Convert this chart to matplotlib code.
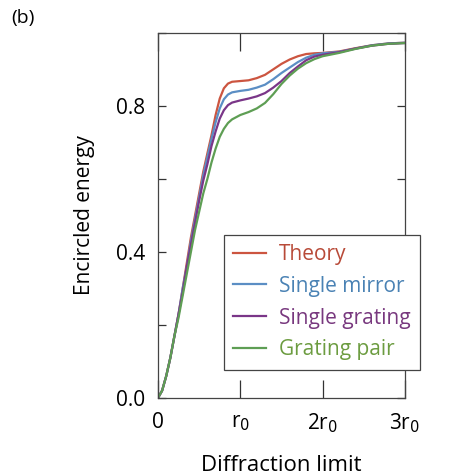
import numpy as np
import matplotlib as mpl
mpl.use('Agg')
import matplotlib.pyplot as plt

plt.rcParams['font.family'] = ['Open Sans', 'DejaVu Sans']

# radius in units of r0
x = [0, 0.05, 0.1, 0.15, 0.2, 0.25, 0.3, 0.35, 0.4, 0.45, 0.5, 0.55, 0.6, 0.65,
     0.7, 0.75, 0.8, 0.85, 0.9, 1.0, 1.1, 1.2, 1.3, 1.4, 1.5, 1.6, 1.7, 1.8, 1.9,
     2.0, 2.2, 2.4, 2.6, 2.8, 3.0]

theory = [0, 0.02, 0.06, 0.11, 0.17, 0.23, 0.30, 0.37, 0.44, 0.50, 0.56, 0.62, 0.67, 0.72,
          0.775, 0.82, 0.848, 0.861, 0.866, 0.868, 0.870, 0.876, 0.885, 0.900, 0.915, 0.927, 0.936, 0.942, 0.944,
          0.945, 0.949, 0.958, 0.966, 0.971, 0.973]
mirror = [0, 0.02, 0.06, 0.11, 0.17, 0.23, 0.30, 0.36, 0.43, 0.49, 0.55, 0.61, 0.66, 0.71,
          0.755, 0.793, 0.818, 0.831, 0.837, 0.841, 0.844, 0.850, 0.858, 0.873, 0.890, 0.905, 0.920, 0.932, 0.940,
          0.944, 0.948, 0.957, 0.966, 0.971, 0.973]
grating = [0, 0.02, 0.06, 0.11, 0.17, 0.23, 0.29, 0.36, 0.42, 0.48, 0.54, 0.595, 0.64, 0.69,
           0.73, 0.765, 0.788, 0.802, 0.809, 0.815, 0.820, 0.826, 0.835, 0.850, 0.868, 0.890, 0.908, 0.925, 0.935,
           0.940, 0.947, 0.957, 0.965, 0.970, 0.972]
pair = [0, 0.02, 0.06, 0.11, 0.17, 0.22, 0.28, 0.34, 0.40, 0.46, 0.51, 0.56, 0.60, 0.645,
        0.683, 0.715, 0.737, 0.753, 0.763, 0.775, 0.783, 0.793, 0.808, 0.832, 0.860, 0.883, 0.902, 0.917, 0.928,
        0.936, 0.945, 0.956, 0.965, 0.970, 0.972]

names = ['Theory', 'Single mirror', 'Single grating', 'Grating pair']
line_colors = ['#cc5540', '#5b8ec4', '#7a3688', '#5e9e54']
text_colors = ['#b84a38', '#4a82b4', '#78387e', '#6c9c40']

fig = plt.figure(figsize=(4.54, 4.76), dpi=100)
ax = fig.add_axes([0.348, 0.164, 0.544, 0.767])

for ys, c, n in zip([theory, mirror, grating, pair], line_colors, names):
    ax.plot(x, ys, color=c, lw=1.6, label=n)

ax.set_xlim(0, 3)
ax.set_ylim(0, 1.0)
ax.set_xticks([0, 1, 2, 3])
ax.set_xticklabels(['0', 'r$_0$', '2r$_0$', '3r$_0$'])
ax.set_yticks([0, 0.2, 0.4, 0.6, 0.8, 1.0])
ax.set_yticklabels(['0.0', '', '0.4', '', '0.8', ''])
ax.tick_params(axis='x', direction='in', length=13, width=0.9, top=True,
               labelsize=15, pad=10, color='#333333')
ax.tick_params(axis='y', direction='in', length=6, width=0.9, right=True,
               labelsize=15, pad=9, color='#333333')
for s in ax.spines.values():
    s.set_color('#444444')
    s.set_linewidth(0.9)

ax.set_xlabel('Diffraction limit', fontsize=16, labelpad=14)
ax.set_ylabel('Encircled energy', fontsize=15, labelpad=15)

leg = ax.legend(loc='lower right', bbox_to_anchor=(1.06, 0.077), fontsize=15,
                handlelength=1.6, handletextpad=0.6, borderpad=0.45,
                labelspacing=0.52, borderaxespad=0, fancybox=False, framealpha=1)
leg.get_frame().set_edgecolor('#444444')
leg.get_frame().set_linewidth(0.9)
for t, c in zip(leg.get_texts(), text_colors):
    t.set_color(c)

fig.text(0.025, 0.952, '(b)', fontsize=14)

fig.savefig('out.png', dpi=100)
